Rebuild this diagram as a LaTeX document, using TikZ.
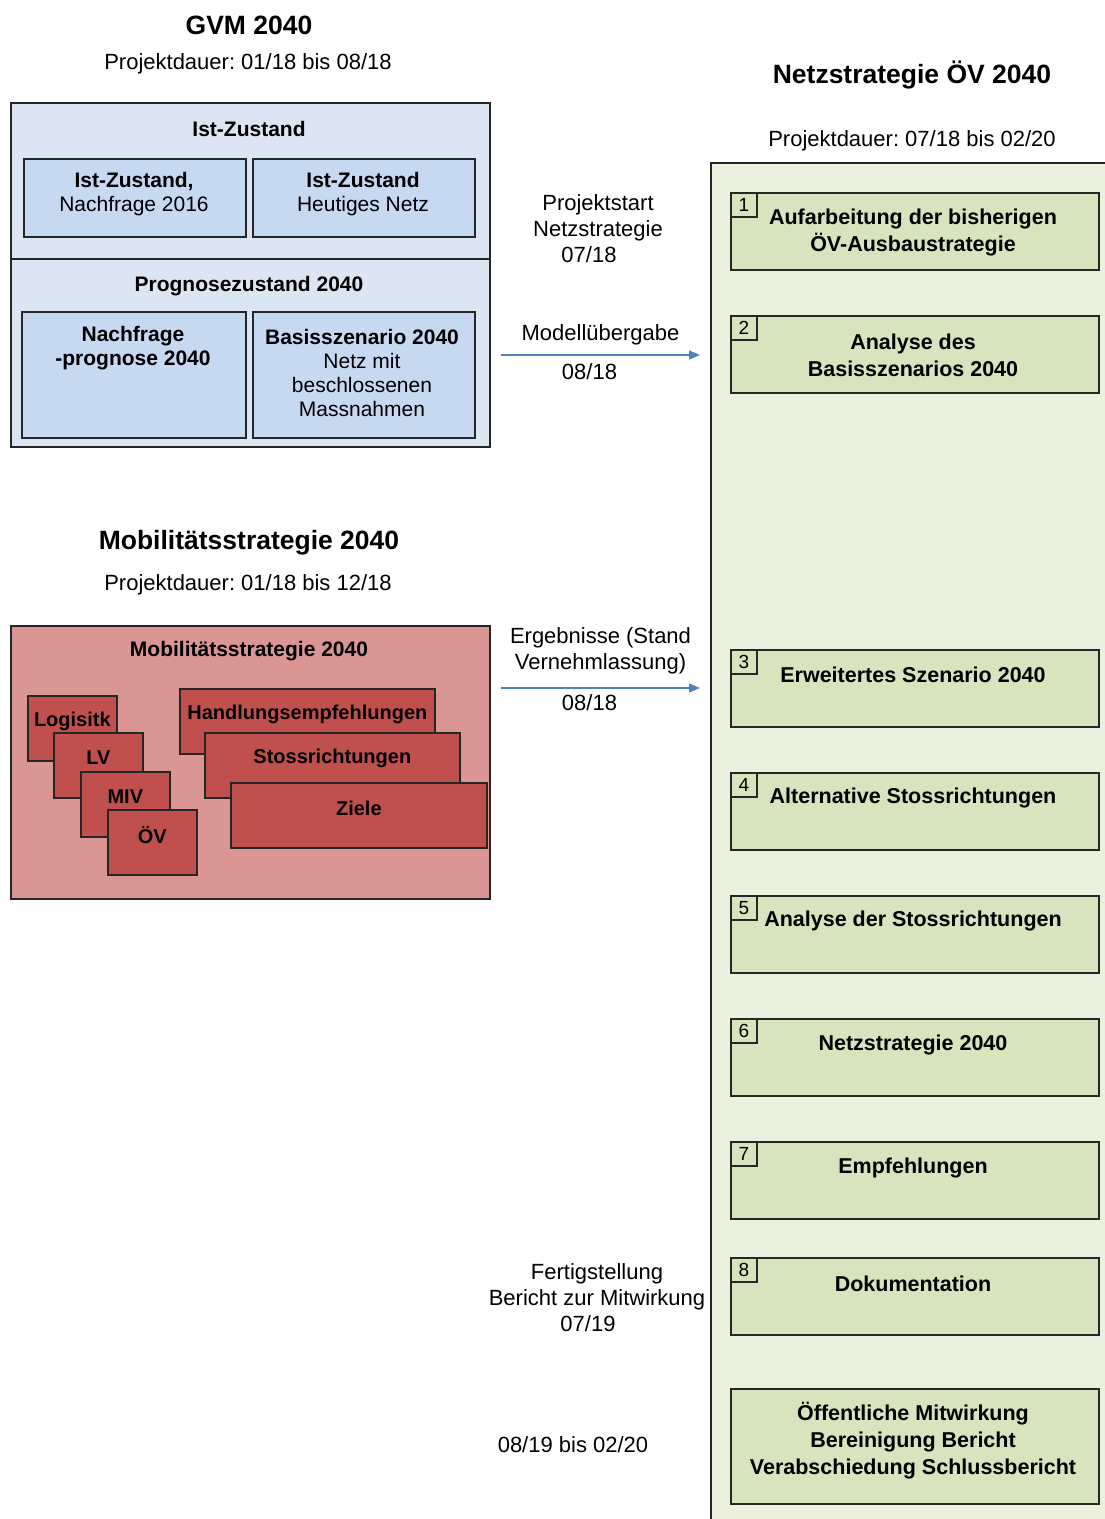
\documentclass[tikz,border=0pt]{standalone}
\usepackage{fontspec}
\setmainfont{Liberation Sans}
\usetikzlibrary{positioning}
\usetikzlibrary{arrows.meta}
\usetikzlibrary{calc}

\definecolor{gvmouter}{HTML}{DCE6F2}
\definecolor{gvminner}{HTML}{C6D9F1}
\definecolor{mobouter}{HTML}{D99694}
\definecolor{mobinner}{HTML}{C0504D}
\definecolor{netzouter}{HTML}{EBF1DE}
\definecolor{netzinner}{HTML}{D7E4BD}
\definecolor{flowblue}{HTML}{4F81BD}

\begin{document}
\begin{tikzpicture}[x=1pt, y=-1pt,
    frame/.style={draw=black!85, line width=1.7pt, anchor=north west, inner sep=0pt},
    txt/.style={font=\fontsize{22}{26}\selectfont, inner sep=0pt, align=center},
    btxt/.style={font=\fontsize{21}{24}\selectfont\bfseries, inner sep=0pt, align=center},
    steptxt/.style={font=\fontsize{21.5}{27}\selectfont\bfseries, inner sep=0pt, align=center},
    title/.style={font=\fontsize{26.5}{30}\selectfont\bfseries, inner sep=0pt},
    flow/.style={draw=flowblue, line width=1.4pt, -{Triangle[length=11pt,width=9pt]}}]

    \useasboundingbox (0,0) rectangle (1105,1519);

    % GVM 2040
    \node[title] (gvm-title) at (249,25) {GVM 2040};
    \node[txt] (gvm-dauer) at (248,64) {Projektdauer:\ 01/18 bis 08/18};
    \node[frame, fill=gvmouter, minimum width=479, minimum height=344] (gvm) at (10,102) {};
    \coordinate (div-l) at (10,259);
    \coordinate (div-r) at (489,259);
    \draw[draw=black!85, line width=1.7pt] (div-l) -- (div-r);
    \node[btxt] (ist) at (249,129) {Ist-Zustand};
    \node[frame, fill=gvminner, minimum width=222, minimum height=78] (ist-a) at (23,158) {};
    \node[frame, fill=gvminner, minimum width=222, minimum height=78] (ist-b) at (252,158) {};
    \node[btxt] (ist-a-t) at (134,194) {Ist-Zustand,\\\mdseries Nachfrage 2016};
    \node[btxt] (ist-b-t) at (363,194) {Ist-Zustand\\\mdseries Heutiges Netz};
    \node[btxt] (prog) at (249,286) {Prognosezustand\ 2040};
    \node[frame, fill=gvminner, minimum width=224, minimum height=126] (prog-a) at (21,311) {};
    \node[frame, fill=gvminner, minimum width=222, minimum height=126] (prog-b) at (252,311) {};
    \node[btxt] (prog-a-t) at (133,348.5) {Nachfrage\\-prognose 2040};
    \node[btxt] (prog-b-t) at (362,373) {Basisszenario 2040\\\mdseries Netz mit\\\mdseries beschlossenen\\\mdseries Massnahmen};

    % Mobilitaetsstrategie 2040
    \node[title] (mob-title) at (249,543) {Mobilitätsstrategie\ 2040};
    \node[txt] (mob-dauer) at (248,585) {Projektdauer:\ 01/18 bis 12/18};
    \node[frame, fill=mobouter, minimum width=479, minimum height=273] (mob) at (10,625) {};
    \node[btxt] (mob-t) at (249,651) {Mobilitätsstrategie\ 2040};
    \foreach \name/\x/\y/\w/\txt in {log/27/695/89/Logisitk, lv/53/732/89/LV, miv/80/771/89/MIV,
        oev/107/809/89/ÖV, hand/179/688/255/Handlungsempfehlungen,
        stoss/204/732/255/Stossrichtungen, ziele/230/782/256/Ziele}
    {
        \node[frame, fill=mobinner, minimum width=\w, minimum height=65] (\name) at (\x,\y) {};
        \node[btxt, font=\fontsize{20}{24}\selectfont\bfseries] (\name-t) at ($(\name.north)+(0,26)$) {\txt};
    }

    % Netzstrategie OeV 2040
    \node[title] (netz-title) at (912,75) {Netzstrategie ÖV 2040};
    \node[txt] (netz-dauer) at (912,141) {Projektdauer:\ 07/18 bis 02/20};
    \node[anchor=north west, fill=netzouter, inner sep=0pt, minimum width=394, minimum height=1356] (netz) at (711,163) {};
    \draw[draw=black!85, line width=1.7pt] (netz.south west) -- (netz.north west) -- (netz.north east);
    \foreach \n/\ytop/\ytxt/\txt in {1/192/232.5/{Aufarbeitung der bisherigen\\ÖV-Ausbaustrategie},
        2/315/355.5/{Analyse des\\Basisszenarios\ 2040}, 3/649/675/{Erweitertes Szenario 2040},
        4/772/798/{Alternative Stossrichtungen}, 5/895/921/{Analyse der Stossrichtungen},
        6/1018/1045/{Netzstrategie 2040}, 7/1141/1168/{Empfehlungen}, 8/1257/1284/{Dokumentation}}
    {
        \node[frame, fill=netzinner, minimum width=368, minimum height=77] (step\n) at (730,\ytop) {};
        \node[frame, font=\fontsize{19}{22}\selectfont, minimum width=26, minimum height=24] (num\n) at (730,\ytop) {\n};
        \node[steptxt] (step\n-t) at (913,\ytxt) {\txt};
    }
    \node[frame, fill=netzinner, minimum width=368, minimum height=115] (final) at (730,1388) {};
    \node[steptxt] (final-t) at (913,1440.5) {Öffentliche Mitwirkung\\Bereinigung Bericht\\Verabschiedung Schlussbericht};

    % Meilensteine
    \node[txt] (start) at (598,229) {Projektstart\\Netzstrategie\\07/18\hspace*{18pt}};
    \coordinate (modell-from) at (501,355);
    \coordinate (modell-to) at (700,355);
    \draw[flow] (modell-from) -- (modell-to)
        node[txt, midway, above=9pt] (modell) {Modellübergabe}
        node[txt, midway, below=8pt, xshift=-11pt] (modell-d) {08/18};
    \coordinate (erg-from) at (501,688);
    \coordinate (erg-to) at (700,688);
    \draw[flow] (erg-from) -- (erg-to)
        node[txt, midway, above=13pt] (erg) {Ergebnisse (Stand\\Vernehmlassung)}
        node[txt, midway, below=6pt, xshift=-11pt] (erg-d) {08/18};
    \node[txt] (fertig) at (597,1298) {Fertigstellung\\Bericht zur Mitwirkung\\07/19\hspace*{18pt}};
    \node[txt] (schluss) at (573,1445) {08/19 bis 02/20};
\end{tikzpicture}
\end{document}
